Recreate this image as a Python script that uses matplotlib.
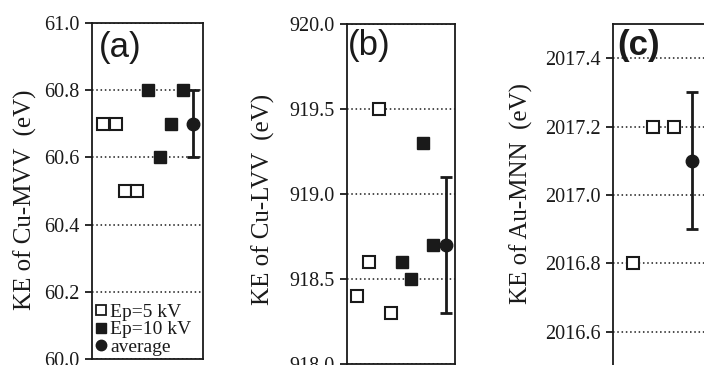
import matplotlib
matplotlib.use("Agg")
import matplotlib.pyplot as plt
import numpy as np
from matplotlib.lines import Line2D

# ---- data ----
# panel (a) Cu-MVV
a_open_x = [11.4, 23.6, 32.5, 45.0]
a_open_y = [60.7, 60.7, 60.5, 60.5]
a_fill_x = [55.8, 67.7, 78.5, 91.0]
a_fill_y = [60.8, 60.6, 60.7, 60.8]
a_avg_x, a_avg_y, a_avg_err = [101.0], [60.7], [0.1]
a_ticks = [60.0, 60.2, 60.4, 60.6, 60.8, 61.0]

# panel (b) Cu-LVV
b_open_x = [10.0, 22.0, 32.0, 44.0]
b_open_y = [918.4, 918.6, 919.5, 918.3]
b_fill_x = [55.0, 64.0, 76.0, 86.0]
b_fill_y = [918.6, 918.5, 919.3, 918.7]
b_avg_x, b_avg_y, b_avg_err = [99.0], [918.7], [0.4]
b_ticks = [918.0, 918.5, 919.0, 919.5, 920.0]

# panel (c) Au-MNN
c_open_x = [20.0, 40.0, 61.0]
c_open_y = [2016.8, 2017.2, 2017.2]
c_avg_x, c_avg_y, c_avg_err = [79.0], [2017.1], [0.2]
c_ticks = [2016.6, 2016.8, 2017.0, 2017.2, 2017.4]

ylabels = ["KE of Cu-MVV  (eV)", "KE of Cu-LVV  (eV)", "KE of Au-MNN  (eV)"]
panel_tags = ["(a)", "(b)", "(c)"]
legend_labels = ["Ep=5 kV", "Ep=10 kV", "average"]

INK = "#1a1a1a"
SERIF = ["Liberation Serif", "DejaVu Serif"]
SANS = ["Liberation Sans", "DejaVu Sans"]

fig = plt.figure(figsize=(7.04, 3.65), dpi=100)

W, H = 704.0, 365.0
def rect(left, top, width, bottom):
    return [left / W, (H - bottom) / H, width / W, (bottom - top) / H]

ax_a = fig.add_axes(rect(92, 23, 111, 359))
ax_b = fig.add_axes(rect(347, 24, 108, 364))
ax_c = fig.add_axes(rect(613, 24, 108, 366))

ms = 8.6
def style(ax, ylim, ticks, xlim):
    ax.set_xlim(*xlim)
    ax.set_ylim(*ylim)
    ax.set_yticks(ticks)
    ax.set_yticklabels([f"{t:.1f}" for t in ticks], fontfamily=SERIF, fontsize=14.5, color=INK)
    ax.set_xticks([])
    ax.tick_params(axis="y", direction="out", length=5, width=1.3, pad=4, colors=INK, left=True, right=False)
    for s in ax.spines.values():
        s.set_linewidth(1.3)
        s.set_color(INK)
    ax.yaxis.grid(True, linestyle=(0, (1.0, 1.8)), color=INK, linewidth=1.1)
    ax.set_axisbelow(True)
    ax.patch.set_alpha(0)

def draw(ax, ox, oy, fx, fy, avx, avy, averr):
    h_open = ax.plot(ox, oy, linestyle="none", marker="s", ms=ms, mfc="white", mec=INK, mew=1.5, zorder=3)[0]
    h_fill = None
    if fx:
        h_fill = ax.plot(fx, fy, linestyle="none", marker="s", ms=ms, mfc=INK, mec=INK, mew=1.0, zorder=3)[0]
    ax.errorbar(avx, avy, yerr=averr, fmt="none", ecolor=INK, elinewidth=2.0, capsize=4.5, capthick=2.0, zorder=3)
    h_avg = ax.plot(avx, avy, linestyle="none", marker="o", ms=9.0, mfc=INK, mec=INK, zorder=4)[0]
    return h_open, h_fill, h_avg

style(ax_a, (60.0, 61.0), a_ticks, (0, 111))
style(ax_b, (918.0, 920.0), b_ticks, (0, 108))
style(ax_c, (2016.5, 2017.5), c_ticks, (0, 108))

draw(ax_a, a_open_x, a_open_y, a_fill_x, a_fill_y, a_avg_x, a_avg_y, a_avg_err)
draw(ax_b, b_open_x, b_open_y, b_fill_x, b_fill_y, b_avg_x, b_avg_y, b_avg_err)
draw(ax_c, c_open_x, c_open_y, [], [], c_avg_x, c_avg_y, c_avg_err)

# legend in panel (a)
handles = [
    Line2D([], [], linestyle="none", marker="s", ms=7, mfc="white", mec=INK, mew=1.3),
    Line2D([], [], linestyle="none", marker="s", ms=7, mfc=INK, mec=INK),
    Line2D([], [], linestyle="none", marker="o", ms=7.5, mfc=INK, mec=INK),
]
leg = ax_a.legend(handles, legend_labels, loc="lower left", bbox_to_anchor=(0.0, 0.0),
                  frameon=False, prop={"family": SERIF, "size": 14},
                  handlelength=0.6, handletextpad=0.2, labelspacing=0.0,
                  borderpad=0.05, borderaxespad=0.1)
for t in leg.get_texts():
    t.set_color(INK)

# y labels
for (x, y), lab in zip([(25, 200), (263, 199), (521, 194)], ylabels):
    fig.text(x / W, 1 - y / H, lab, rotation=90, ha="center", va="center",
             fontfamily=SERIF, fontsize=18, color=INK)

# panel tags
for ax, tag, (px, py), bold in zip([ax_a, ax_b, ax_c], panel_tags, [(99, 31), (348, 29), (617, 29)], [False, False, True]):
    fig.text(px / W, 1 - py / H, tag, ha="left", va="top", fontfamily=SANS,
             fontsize=25, color=INK, fontweight="bold" if bold else "normal", zorder=5)

fig.savefig("out.png", dpi=100)
